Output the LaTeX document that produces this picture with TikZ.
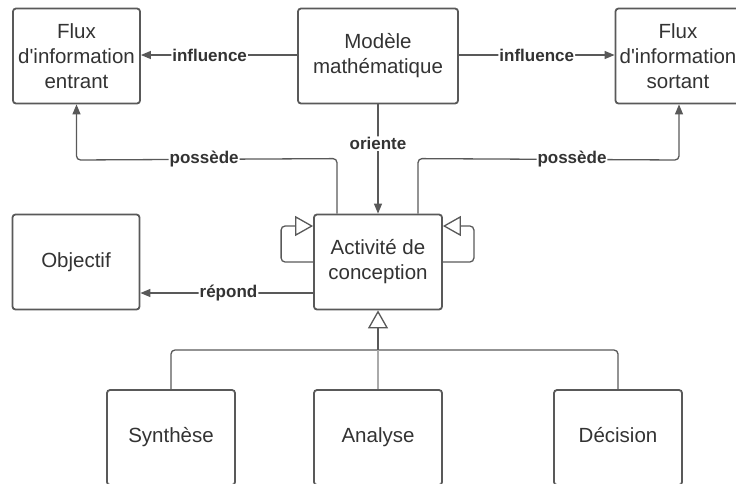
\documentclass[tikz,border=0pt]{standalone}
\usepackage{fontspec}
\setmainfont{Liberation Sans}[Ligatures=TeXOff]
\usetikzlibrary{arrows.meta}
\definecolor{ln}{HTML}{595959}
\definecolor{tx}{HTML}{333333}
\definecolor{lt}{HTML}{AAAAAA}
\begin{document}
\begin{tikzpicture}[x=1pt,y=-1pt,
 box/.style={draw=ln, line width=1.8pt, rounded corners=3pt, fill=white, text=tx, align=center,
   font=\fontsize{20.5}{25}\selectfont, inner sep=0pt},
 txt/.style={text=tx, align=center, font=\fontsize{20.5}{25}\selectfont, inner sep=0pt},
 conn/.style={draw=ln, line width=1.3pt, rounded corners=4pt},
 lbl/.style={fill=white, text=tx, font=\fontsize{17}{19}\selectfont\bfseries, inner sep=1pt},
 fa/.style={-{Triangle[length=10pt,width=8pt]}},
 oa/.style={-{Triangle[open,length=18pt,width=20pt,fill=white]}}
]
\useasboundingbox (0,0) rectangle (736,483);
\clip (0,0) rectangle (736,483);

\node[box, minimum width=127pt, minimum height=95pt] (fin) at (76.5,56) {Flux\\d'information\\entrant};
\node[box, minimum width=160pt, minimum height=95pt] (mod) at (378,56) {Modèle\\mathématique};
\node[box, minimum width=127pt, minimum height=95pt] (fout) at (679,56) {};
\node[txt] (fouttxt) at (678,56) {Flux\\d'information\\sortant};
\node[box, minimum width=127pt, minimum height=95pt] (obj) at (76,262) {Objectif};
\node[box, minimum width=128pt, minimum height=95pt] (act) at (378,262) {Activité de\\conception};
\node[box, minimum width=128pt, minimum height=95pt] (syn) at (171,437.5) {\raisebox{5pt}{Synthèse}};
\node[box, minimum width=128pt, minimum height=95pt] (ana) at (378,437.5) {\raisebox{5pt}{Analyse}};
\node[box, minimum width=128pt, minimum height=95pt] (dec) at (618,437.5) {\raisebox{5pt}{Décision}};

% influence
\draw[conn,fa] (mod.west |- 0,55) -- node[lbl,pos=0.56]{influence} (fin.east |- 0,55);
\draw[conn,fa] (mod.east |- 0,55) -- node[lbl,pos=0.5]{influence} (fout.west |- 0,55);
% oriente
\draw[conn,fa] (mod.south) -- node[lbl,pos=0.36]{oriente} (act.north);
% possede
\draw[conn,fa] ([xshift=-41pt]act.north) -- ++(0,-55) -- node[lbl,pos=0.51]{possède} (fin.south |- 0,160) -- (fin.south);
\draw[conn,fa] ([xshift=40pt]act.north) -- ++(0,-55) -- node[lbl,pos=0.59]{possède} (fout.south |- 0,160) -- (fout.south);
% repond
\draw[conn,fa] (act.west |- 0,293) -- node[lbl,pos=0.49]{répond} (obj.east |- 0,293);
% self loops
\draw[conn,oa] (act.west) -- ++(-32,0) -- ++(0,-36) -- (act.west |- 0,226);
\draw[conn,oa] (act.east) -- ++(31,0) -- ++(0,-36) -- (act.east |- 0,226);
% generalization
\coordinate (bus) at (378,350);
\draw[conn] (syn.north) |- (bus) -| (dec.north);
\draw[draw=lt, line width=1.3pt] (ana.north) -- (bus);
\draw[conn,oa] (bus) -- (act.south);
\end{tikzpicture}
\end{document}
